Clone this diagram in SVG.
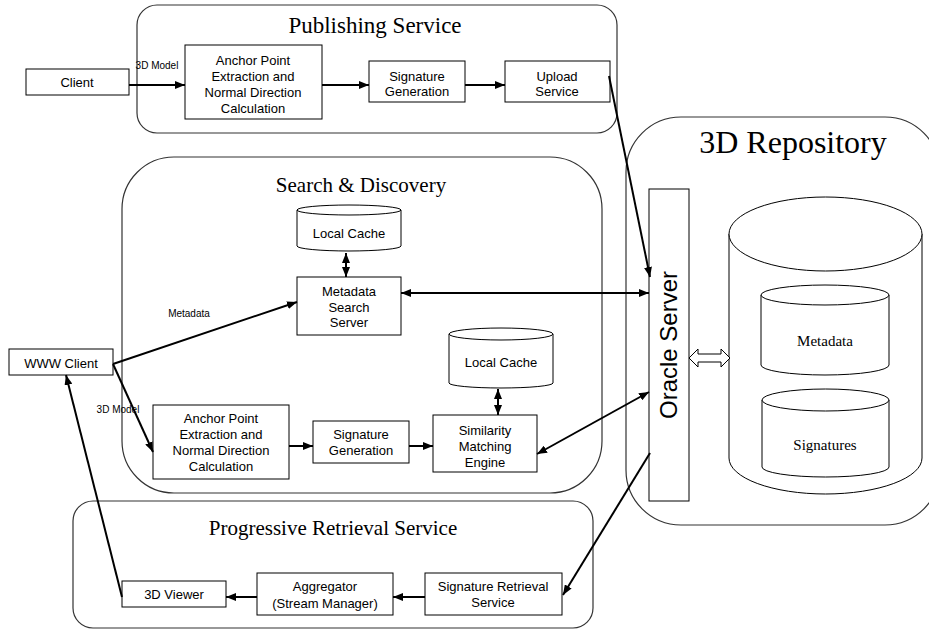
<svg xmlns="http://www.w3.org/2000/svg" width="929" height="630" viewBox="0 0 929 630">
<defs>
<style>
.grp{fill:none;stroke:#333;stroke-width:1.2}
.box{fill:#fff;stroke:#000;stroke-width:1}
.cyl{fill:#fff;stroke:#000;stroke-width:1}
.t{font-family:"Liberation Sans",Arial,sans-serif;font-size:13px;fill:#000;text-anchor:middle}
.s{font-family:"Liberation Sans",Arial,sans-serif;font-size:10px;fill:#000;text-anchor:middle}
.h{font-family:"Liberation Serif","Times New Roman",serif;fill:#000;text-anchor:middle}
.c{fill:none;stroke:#000;stroke-width:2}
</style>
<marker id="ah" viewBox="0 0 10 8" refX="10" refY="4" markerWidth="10" markerHeight="8" markerUnits="userSpaceOnUse" orient="auto-start-reverse">
<path d="M0,0 L10,4 L0,8 z" fill="#000"/>
</marker>
</defs>
<rect width="929" height="630" fill="#fff"/>

<g id="publishing-service">
<rect class="grp" x="137" y="5" width="480" height="128" rx="20" ry="20"/>
<text class="h" x="375" y="33" font-size="23">Publishing Service</text>
</g>
<g id="search-discovery">
<rect class="grp" x="122" y="157" width="480" height="336" rx="52" ry="52"/>
<text class="h" x="361" y="192" font-size="21">Search &amp; Discovery</text>
</g>
<g id="progressive-retrieval">
<rect class="grp" x="73" y="501" width="520" height="127" rx="20" ry="20"/>
<text class="h" x="333" y="535" font-size="21">Progressive Retrieval Service</text>
</g>
<g id="repository">
<rect class="grp" x="626" y="117" width="314" height="408" rx="55" ry="55"/>
<text class="h" x="793" y="153" font-size="32">3D Repository</text>
</g>

<g id="client">
<rect class="box" x="26" y="69" width="103" height="26"/>
<text class="t" x="77" y="87">Client</text>
</g>
<g id="anchor1">
<rect class="box" x="185" y="45" width="137" height="74"/>
<text class="t" x="253" y="65">Anchor Point</text>
<text class="t" x="253" y="81">Extraction and</text>
<text class="t" x="253" y="97">Normal Direction</text>
<text class="t" x="253" y="113">Calculation</text>
</g>
<g id="siggen1">
<rect class="box" x="369" y="61" width="96" height="41"/>
<text class="t" x="417" y="81">Signature</text>
<text class="t" x="417" y="96">Generation</text>
</g>
<g id="upload">
<rect class="box" x="505" y="61" width="105" height="41"/>
<text class="t" x="557" y="81">Upload</text>
<text class="t" x="557" y="96">Service</text>
</g>

<g id="local-cache1">
<path class="cyl" d="M297,210 L297,246 A52,5 0 0 0 401,246 L401,210"/>
<ellipse class="cyl" cx="349" cy="210" rx="52" ry="5"/>
<text class="t" x="349" y="238" font-size="12">Local Cache</text>
</g>
<g id="metadata-search">
<rect class="box" x="297" y="277" width="104" height="58"/>
<text class="t" x="349" y="296">Metadata</text>
<text class="t" x="349" y="312">Search</text>
<text class="t" x="349" y="327">Server</text>
</g>
<g id="local-cache2">
<path class="cyl" d="M449,334 L449,383 A52,5 0 0 0 553,383 L553,334"/>
<ellipse class="cyl" cx="501" cy="334" rx="52" ry="6"/>
<text class="t" x="501" y="367" font-size="12">Local Cache</text>
</g>
<g id="www-client">
<rect class="box" x="9" y="349" width="104" height="26"/>
<text class="t" x="61" y="368">WWW Client</text>
</g>
<g id="anchor2">
<rect class="box" x="153" y="405" width="136" height="74"/>
<text class="t" x="221" y="423">Anchor Point</text>
<text class="t" x="221" y="439">Extraction and</text>
<text class="t" x="221" y="455">Normal Direction</text>
<text class="t" x="221" y="471">Calculation</text>
</g>
<g id="siggen2">
<rect class="box" x="313" y="421" width="96" height="42"/>
<text class="t" x="361" y="439">Signature</text>
<text class="t" x="361" y="455">Generation</text>
</g>
<g id="similarity">
<rect class="box" x="433" y="415" width="104" height="57"/>
<text class="t" x="485" y="435">Similarity</text>
<text class="t" x="485" y="451">Matching</text>
<text class="t" x="485" y="467">Engine</text>
</g>

<g id="oracle">
<rect class="box" x="649" y="189" width="40" height="312"/>
<text x="0" y="0" transform="translate(677,345) rotate(-90)" style="font-family:'Liberation Sans',Arial,sans-serif;font-size:24px;text-anchor:middle">Oracle Server</text>
</g>
<g id="db">
<path class="cyl" d="M729,234 L729,458 A96.5,36 0 0 0 922,458 L922,234"/>
<ellipse class="cyl" cx="825.5" cy="234" rx="96.5" ry="37"/>
</g>
<g id="metadata-db">
<path class="cyl" d="M761,295 L761,365 A64,10 0 0 0 889,365 L889,295"/>
<ellipse class="cyl" cx="825" cy="295" rx="64" ry="10"/>
<text class="h" x="825" y="346" font-size="15">Metadata</text>
</g>
<g id="signatures-db">
<path class="cyl" d="M762,400 L762,467 A63.5,10 0 0 0 889,467 L889,400"/>
<ellipse class="cyl" cx="825.5" cy="400" rx="63.5" ry="11"/>
<text class="h" x="825" y="450" font-size="15">Signatures</text>
</g>

<g id="viewer">
<rect class="box" x="122" y="581" width="104" height="26"/>
<text class="t" x="174" y="599">3D Viewer</text>
</g>
<g id="aggregator">
<rect class="box" x="257" y="573" width="136" height="42"/>
<text class="t" x="325" y="591">Aggregator</text>
<text class="t" x="325" y="608">(Stream Manager)</text>
</g>
<g id="sig-retrieval">
<rect class="box" x="425" y="573" width="137" height="42"/>
<text class="t" x="493" y="591">Signature Retrieval</text>
<text class="t" x="493" y="607">Service</text>
</g>

<g id="connectors">
<line class="c" x1="129" y1="85" x2="185" y2="85" marker-end="url(#ah)"/>
<line class="c" x1="322" y1="85" x2="369" y2="85" marker-end="url(#ah)"/>
<line class="c" x1="465" y1="85" x2="505" y2="85" marker-end="url(#ah)"/>
<line class="c" x1="609" y1="76" x2="650" y2="277" marker-end="url(#ah)"/>
<line class="c" x1="401" y1="293" x2="649" y2="293" marker-start="url(#ah)" marker-end="url(#ah)"/>
<line class="c" x1="346" y1="253" x2="346" y2="277" marker-start="url(#ah)" marker-end="url(#ah)"/>
<line class="c" x1="498" y1="389" x2="498" y2="415" marker-start="url(#ah)" marker-end="url(#ah)"/>
<line class="c" x1="113" y1="364" x2="297" y2="302" marker-end="url(#ah)"/>
<line class="c" x1="113" y1="364" x2="153" y2="452" marker-end="url(#ah)"/>
<line class="c" x1="289" y1="446" x2="313" y2="446" marker-end="url(#ah)"/>
<line class="c" x1="409" y1="446" x2="433" y2="446" marker-end="url(#ah)"/>
<line class="c" x1="537" y1="454" x2="649" y2="392" marker-start="url(#ah)" marker-end="url(#ah)"/>
<line class="c" x1="650" y1="453" x2="563" y2="595" marker-end="url(#ah)"/>
<line class="c" x1="425" y1="597" x2="393" y2="597" marker-end="url(#ah)"/>
<line class="c" x1="257" y1="597" x2="226" y2="597" marker-end="url(#ah)"/>
<line class="c" x1="122" y1="597" x2="66" y2="375" marker-end="url(#ah)"/>
<path d="M689,358 L698,349 L698,354 L721,354 L721,349 L730,358 L721,367 L721,362 L698,362 L698,367 Z" fill="#fff" stroke="#000" stroke-width="1"/>
<text class="s" x="157" y="69">3D Model</text>
<text class="s" x="189" y="317">Metadata</text>
<text class="s" x="118" y="413">3D Model</text>
</g>
</svg>
